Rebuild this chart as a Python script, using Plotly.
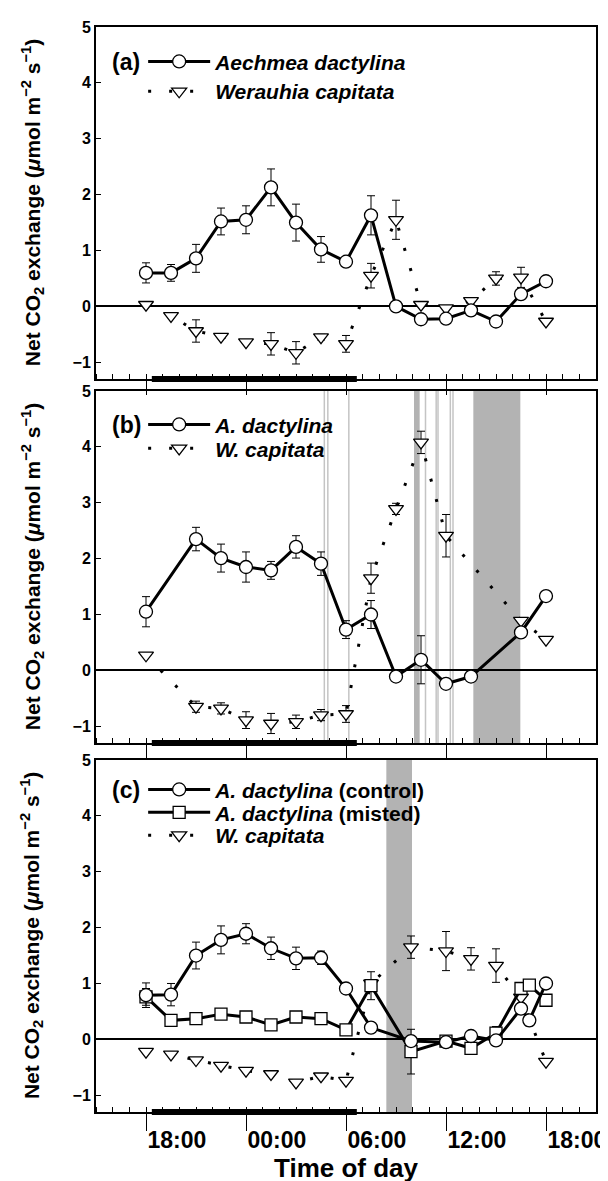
import plotly.graph_objects as go

FONT = "Liberation Sans, Arial, sans-serif"

# ---------------- data ----------------
# Panel (a)
hours_a = [18, 19.5, 21, 22.5, 24, 25.5, 27, 28.5, 30, 31.5, 33, 34.5, 36, 37.5, 39, 40.5, 42]
aech_a = [0.60, 0.60, 0.86, 1.52, 1.55, 2.13, 1.50, 1.02, 0.80, 1.63, 0.00, -0.23, -0.22, -0.07, -0.27, 0.22, 0.45]
aech_a_err = [0.18, 0.15, 0.25, 0.24, 0.25, 0.33, 0.33, 0.23, 0.05, 0.35, 0.04, 0.05, 0.06, 0.04, 0.04, 0.05, 0.05]
wera_a = [0.03, -0.17, -0.44, -0.54, -0.64, -0.67, -0.83, -0.55, -0.67, 0.55, 1.55, 0.03, -0.03, 0.10, 0.50, 0.52, -0.27]
wera_a_err = [0, 0, 0.2, 0, 0, 0.2, 0.2, 0.05, 0.15, 0.22, 0.35, 0, 0, 0, 0.12, 0.18, 0]

# Panel (b)
hours_b_aech = [18, 21, 22.5, 24, 25.5, 27, 28.5, 30, 31.5, 33, 34.5, 36, 37.5, 40.5, 42]
aech_b = [1.05, 2.35, 2.01, 1.85, 1.79, 2.21, 1.91, 0.73, 1.00, -0.11, 0.19, -0.24, -0.11, 0.68, 1.33]
aech_b_err = [0.27, 0.21, 0.25, 0.27, 0.16, 0.20, 0.21, 0.16, 0.25, 0.04, 0.43, 0.04, 0.04, 0.05, 0.05]
hours_b_wera = [18, 21, 22.5, 24, 25.5, 27, 28.5, 30, 31.5, 33, 34.5, 36, 40.5, 42]
wera_b = [0.27, -0.65, -0.68, -0.89, -0.95, -0.92, -0.80, -0.78, 1.65, 2.89, 4.08, 2.41, 0.89, 0.55]
wera_b_err = [0, 0.1, 0.1, 0.15, 0.18, 0.12, 0.1, 0.15, 0.27, 0.1, 0.2, 0.38, 0, 0]

# Panel (c)
hours_c_aech = [18, 19.5, 21, 22.5, 24, 25.5, 27, 28.5, 30, 31.5, 33.9, 36, 37.5, 39, 40.5, 41, 42]
ctrl_c = [0.79, 0.80, 1.50, 1.78, 1.89, 1.63, 1.45, 1.46, 0.91, 0.21, -0.03, -0.05, 0.06, -0.02, 0.55, 0.34, 1.00]
ctrl_c_err = [0.22, 0.20, 0.24, 0.25, 0.18, 0.20, 0.20, 0.12, 0.05, 0.05, 0.10, 0.05, 0.05, 0.05, 0.10, 0.10, 0.05]
mist_c = [0.76, 0.34, 0.37, 0.45, 0.40, 0.26, 0.40, 0.37, 0.17, 0.96, -0.22, -0.03, -0.16, 0.11, 0.91, 0.97, 0.70]
mist_c_err = [0.15, 0.05, 0.05, 0.05, 0.05, 0.05, 0.05, 0.05, 0.05, 0.25, 0.40, 0.05, 0.10, 0.12, 0.05, 0.05, 0.05]
hours_c_wera = [18, 19.5, 21, 22.5, 24, 25.5, 27, 28.5, 30, 31.5, 33.9, 36, 37.5, 39, 40.5, 42]
wera_c = [-0.22, -0.27, -0.37, -0.47, -0.56, -0.62, -0.77, -0.66, -0.74, 1.00, 1.65, 1.58, 1.44, 1.32, 0.75, -0.40]
wera_c_err = [0, 0, 0, 0, 0, 0, 0, 0, 0, 0, 0.2, 0.35, 0.2, 0.3, 0, 0]

# events / periods (hours from midnight of day 1)
night_period = [18.35, 30.65]
mist_lines_b = [28.70, 28.91, 30.17, 34.77, 35.41, 35.52, 36.26, 36.42]
mist_bands_b = [[34.08, 34.42], [37.64, 40.46]]
mist_bands_c = [[32.42, 33.96]]

tick_hours = [18, 24, 30, 36, 42]
tick_labels = ["18:00", "00:00", "06:00", "12:00", "18:00"]
panel_letters = ["(a)", "(b)", "(c)"]

# ---------------- layout helpers ----------------
W, H = 608, 1181
ML, MR, MT, MB = 88, 11, 13, 77
PH = H - MT - MB
PW = W - ML - MR


def py(px):
    return 1 - (px - MT) / PH


domains = [[py(367), 1.0], [py(733), py(379)], [0.0, py(750)]]

fig = go.Figure()


def solid_trace(x, y, err, name, axis, legend, symbol="circle"):
    return go.Scatter(
        x=x, y=y, name=name, mode="lines+markers",
        xaxis="x" + axis, yaxis="y" + axis, legend=legend,
        line=dict(color="black", width=3),
        marker=dict(symbol=symbol, size=13 if symbol == "circle" else 12, color="white",
                    line=dict(color="black", width=1.3)),
        error_y=dict(type="data", array=err, visible=True, color="black", thickness=1, width=4),
        cliponaxis=False,
    )


def dotted_trace(x, y, err, name, axis, legend):
    return go.Scatter(
        x=x, y=y, name=name, mode="lines+markers",
        xaxis="x" + axis, yaxis="y" + axis, legend=legend,
        line=dict(color="black", width=3, dash="3px,18px"),
        marker=dict(symbol="triangle-down", size=13, color="white",
                    line=dict(color="black", width=1.3)),
        error_y=dict(type="data", array=err, visible=True, color="black", thickness=1, width=4),
        cliponaxis=False,
    )


# panel (a)
fig.add_trace(dotted_trace(hours_a, wera_a, wera_a_err, "<i>Werauhia capitata</i>", "", "legend2"))
fig.add_trace(solid_trace(hours_a, aech_a, aech_a_err, "<i>Aechmea dactylina</i>", "", "legend"))
# panel (b)
fig.add_trace(dotted_trace(hours_b_wera, wera_b, wera_b_err, "<i>W. capitata</i>", "2", "legend4"))
fig.add_trace(solid_trace(hours_b_aech, aech_b, aech_b_err, "<i>A. dactylina</i>", "2", "legend3"))
# panel (c)
fig.add_trace(dotted_trace(hours_c_wera, wera_c, wera_c_err, "<i>W. capitata</i>", "3", "legend7"))
fig.add_trace(solid_trace(hours_c_aech, mist_c, mist_c_err, "<i>A. dactylina</i> (misted)", "3", "legend6", symbol="square"))
fig.add_trace(solid_trace(hours_c_aech, ctrl_c, ctrl_c_err, "<i>A. dactylina</i> (control)", "3", "legend5"))

shapes = []
axes_ids = ["", "2", "3"]
for i, a in enumerate(axes_ids):
    # night bar on the bottom axis
    shapes.append(dict(type="line", xref="x" + a, yref=("y" + a + " domain"),
                       x0=night_period[0], x1=night_period[1], y0=0, y1=0,
                       line=dict(color="black", width=6), layer="above"))

for x0, x1 in mist_bands_b:
    shapes.append(dict(type="rect", xref="x2", yref="y2 domain", x0=x0, x1=x1, y0=0, y1=1,
                       fillcolor="#b3b3b3", line=dict(width=0), layer="below"))
for xv in mist_lines_b:
    shapes.append(dict(type="line", xref="x2", yref="y2 domain", x0=xv, x1=xv, y0=0, y1=1,
                       line=dict(color="#c4c4c4", width=1.5), layer="below"))
for x0, x1 in mist_bands_c:
    shapes.append(dict(type="rect", xref="x3", yref="y3 domain", x0=x0, x1=x1, y0=0, y1=1,
                       fillcolor="#b3b3b3", line=dict(width=0), layer="below"))

xcommon = dict(range=[15, 45], tickvals=tick_hours, ticktext=tick_labels,
               ticks="outside", ticklen=14, tickwidth=1, tickcolor="black",
               minor=dict(ticks="inside", dtick=1, tick0=0, ticklen=5, tickwidth=1, tickcolor="black"),
               showline=True, linewidth=2, linecolor="black", mirror=True,
               showgrid=False, zeroline=False)
ycommon = dict(range=[-1.3, 5], dtick=1, tick0=0, ticks="inside", ticklen=5, tickwidth=1,
               tickcolor="black", showline=True, linewidth=2, linecolor="black", mirror=True,
               showgrid=False, zeroline=True, zerolinecolor="black", zerolinewidth=2,
               tickfont=dict(family=FONT, size=16, color="black", weight="bold"))

layout = dict(
    width=W, height=H, margin=dict(l=ML, r=MR, t=MT, b=MB),
    plot_bgcolor="white", paper_bgcolor="white",
    font=dict(family=FONT, color="black"),
    shapes=shapes,
)
for i, a in enumerate(axes_ids):
    xa = dict(xcommon)
    xa["anchor"] = "y" + a
    xa["domain"] = [0, 1]
    if i < 2:
        xa["showticklabels"] = False
    else:
        xa["ticklen"] = 17
        xa["tickfont"] = dict(family=FONT, size=23, color="black", weight="bold")
        xa["ticklabelposition"] = "outside right"
        xa["ticklabelstandoff"] = 6
    ya = dict(ycommon)
    ya["anchor"] = "x" + a
    ya["domain"] = domains[i]
    layout["xaxis" + a] = xa
    layout["yaxis" + a] = ya

# one legend per row, centred on the row position (px from top)
legend_rows = [48, 78, 413, 437, 780, 803, 826]
for i, row in enumerate(legend_rows):
    key = "legend" if i == 0 else "legend%d" % (i + 1)
    layout[key] = dict(x=(136 - ML) / PW, xanchor="left", y=py(row), yanchor="middle",
                       bgcolor="rgba(0,0,0,0)", borderwidth=0,
                       font=dict(family=FONT, size=21, color="black", weight="bold"),
                       itemwidth=62)

annotations = []
ytitle = "Net CO<sub>2</sub> exchange (<i>\u03bc</i>mol m<sup>\u22122</sup> s<sup>\u22121</sup>)"
letter_y = [48, 413, 780]
for i in range(3):
    annotations.append(dict(text=ytitle, textangle=-90, xref="paper", yref="paper",
                            x=(23 - ML) / PW, y=(domains[i][0] + domains[i][1]) / 2,
                            xanchor="center", yanchor="middle", showarrow=False,
                            font=dict(family=FONT, size=21, color="black", weight="bold")))
    annotations.append(dict(text=panel_letters[i], xref="paper", yref="paper",
                            x=(102 - ML) / PW, y=py(letter_y[i]), xanchor="left", yanchor="middle",
                            showarrow=False,
                            font=dict(family=FONT, size=23, color="black", weight="bold")))
annotations.append(dict(text="Time of day", xref="paper", yref="paper", x=0.5, y=py(1160),
                        xanchor="center", yanchor="middle", showarrow=False,
                        font=dict(family=FONT, size=26, color="black", weight="bold")))
layout["annotations"] = annotations
layout["showlegend"] = True

fig.update_layout(**layout)
fig.write_html("out.html")
